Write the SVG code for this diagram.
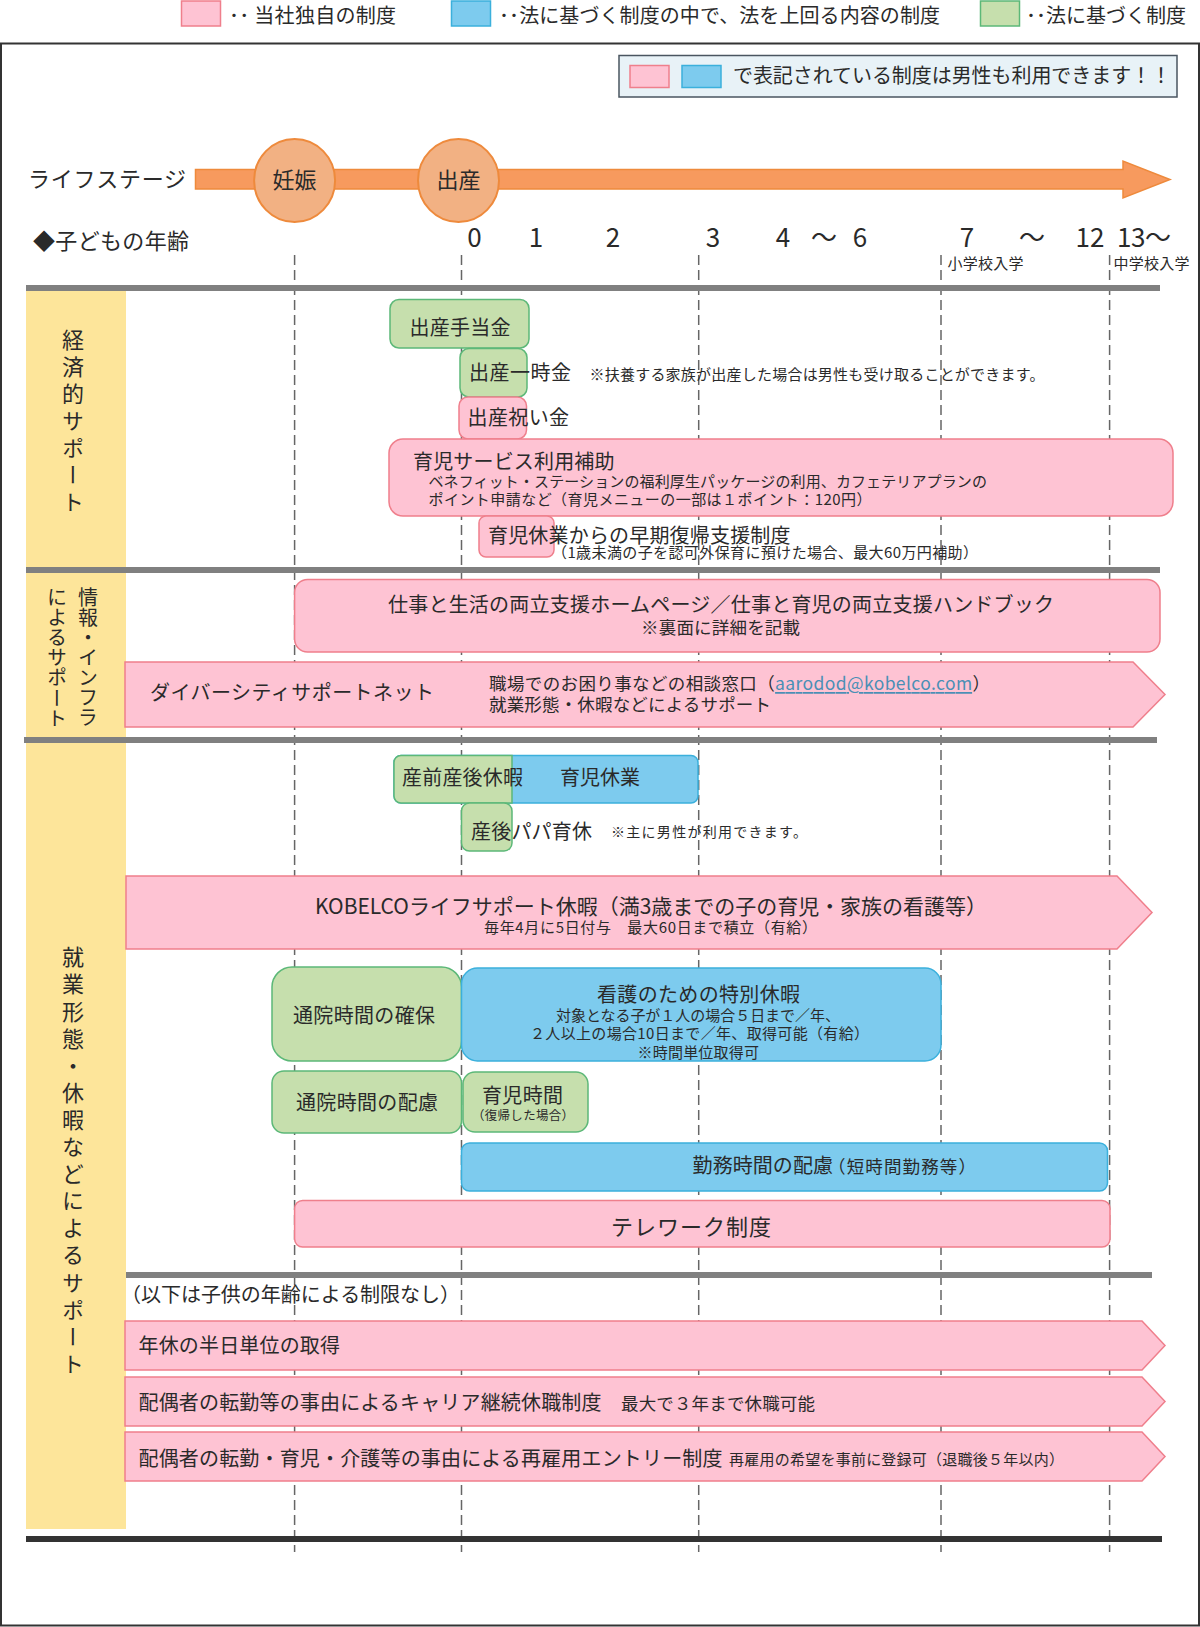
<svg xmlns="http://www.w3.org/2000/svg" width="1200" height="1627" viewBox="0 0 1200 1627">
<style>
text{font-family:"Noto Sans CJK JP","Noto Sans",sans-serif;fill:#2a2a2a;dominant-baseline:central;transform:translateY(-2px)}
.s12{font-size:12.5px}.s14{font-size:14px}.s15{font-size:15px}.s17{font-size:17.5px}.s20{font-size:20px}.s21{font-size:21px}.s22{font-size:22px}.s26{font-size:26px}
.m{text-anchor:middle}
.v{writing-mode:vertical-rl;font-size:22px;dominant-baseline:auto}
.pink{fill:#fec3d3;stroke:#ef7f8c;stroke-width:1.5}
.blue{fill:#7dcbee;stroke:#3bb0dc;stroke-width:1.5}
.green{fill:#c6dfad;stroke:#5cb878;stroke-width:1.5}
.dash{stroke:#666;stroke-width:1.5;stroke-dasharray:10 5;fill:none}
.bar{fill:#808080}
.yel{fill:#fde59a}
.circ{fill:#f2b183;stroke:#ee8a3c;stroke-width:2}
.link{fill:#4a8fb5;text-decoration:underline}
</style>
<rect x="1" y="43.5" width="1198" height="1582" fill="#fff" stroke="#333" stroke-width="2"/>
<g id="legend">
<rect class="pink" x="181.500" y="1" width="39" height="25"/>
<text class="s20" x="229" y="16" textLength="167">･･ 当社独自の制度</text>
<rect class="blue" x="451.500" y="1" width="39" height="25"/>
<text class="s20" x="499" y="16" textLength="441">･･法に基づく制度の中で、法を上回る内容の制度</text>
<rect class="green" x="980.500" y="1" width="39" height="25"/>
<text class="s20" x="1026" y="16" textLength="160">･･法に基づく制度</text>
</g>
<g id="notice">
<rect x="619" y="55.500" width="558" height="41.500" fill="#e8f2f7" stroke="#4a5560" stroke-width="1.500"/>
<rect class="pink" x="630" y="65.500" width="39" height="22"/>
<rect class="blue" x="682" y="65.500" width="39" height="22"/>
<text class="s20" x="733" y="76" textLength="438">で表記されている制度は男性も利用できます！！</text>
</g>
<g id="panels">
<rect class="yel" x="26" y="291" width="100" height="276"/>
<rect class="yel" x="26" y="573" width="100" height="164"/>
<rect class="yel" x="26" y="743" width="100" height="786"/>
<text class="v" x="73" y="331" style="letter-spacing:5px">経済的サポート</text>
<text class="v" x="88" y="589" style="font-size:20px;letter-spacing:0">情報・インフラ</text>
<text class="v" x="57" y="589" style="font-size:20px;letter-spacing:.2px">によるサポート</text>
<text class="v" x="73" y="948" style="letter-spacing:5.100px">就業形態・休暇などによるサポート</text>
</g>
<g id="connectors">
<path class="dash" d="M294.600 255V1552M461.500 255V1552M698.700 255V1552M941 255V1552M1109.600 255V1552"/>
</g>
<g id="bars">
<rect class="bar" x="26" y="285" width="1134" height="6"/>
<rect class="bar" x="26" y="567" width="1134" height="6"/>
<rect class="bar" x="24" y="737" width="1133" height="6"/>
<rect class="bar" x="126" y="1272" width="1026" height="6"/>
<rect x="26" y="1536" width="1136" height="6" fill="#333"/>
</g>
<g id="lifestage">
<path d="M195.500 169.500H1123V161L1170 179.500L1123 198V189H195.500Z" fill="#f79a5e" stroke="#ee8a3c" stroke-width="1.500"/>
<text class="s22" x="28" y="179" textLength="158">ライフステージ</text>
<g id="stage-ninshin"><ellipse class="circ" cx="294.600" cy="180.500" rx="40.500" ry="41.500"/><text class="s22 m" x="294.600" y="180">妊娠</text></g>
<g id="stage-shussan"><ellipse class="circ" cx="458.500" cy="180.500" rx="40.500" ry="41.500"/><text class="s22 m" x="458.500" y="180">出産</text></g>
</g>
<g id="ages">
<text class="s22" x="33" y="241" textLength="156">◆子どもの年齢</text>
<text class="s26 m" x="474.500" y="237">0</text>
<text class="s26 m" x="536" y="237">1</text>
<text class="s26 m" x="613" y="237">2</text>
<text class="s26 m" x="713" y="237">3</text>
<text class="s26 m" x="783" y="237">4</text>
<text class="s26 m" x="824" y="237">～</text>
<text class="s26 m" x="860" y="237">6</text>
<text class="s26 m" x="967" y="237">7</text>
<text class="s26 m" x="1032" y="237">～</text>
<text class="s26 m" x="1090" y="237">12</text>
<text class="s26" x="1117" y="237" textLength="54">13～</text>
<text class="s15" x="947.500" y="264" textLength="76">小学校入学</text>
<text class="s15" x="1113.500" y="264" textLength="76">中学校入学</text>
</g>
<g id="n-teate"><rect class="green" x="390" y="299.500" width="139" height="48.500" rx="9"/><text class="s20" x="409.500" y="328" textLength="101">出産手当金</text></g>
<g id="n-ichiji"><rect class="green" x="460" y="348.500" width="67" height="48.500" rx="9"/><text class="s20" x="469" y="373" textLength="102">出産一時金</text><text class="s15" x="589.500" y="375.500" textLength="455">※扶養する家族が出産した場合は男性も受け取ることができます。</text></g>
<g id="n-iwai"><rect class="pink" x="459" y="397" width="67.500" height="42" rx="9"/><text class="s20" x="467.600" y="418" textLength="101.500">出産祝い金</text></g>
<g id="n-service"><rect class="pink" x="389" y="439" width="784" height="77" rx="14"/><text class="s20" x="413" y="462" textLength="201.500">育児サービス利用補助</text><text class="s15" x="428.500" y="482" textLength="558.500">ベネフィット・ステーションの福利厚生パッケージの利用、カフェテリアプランの</text><text class="s15" x="428.500" y="500" textLength="443">ポイント申請など（育児メニューの一部は１ポイント：120円）</text></g>
<g id="n-fukki"><rect class="pink" x="479" y="516" width="75" height="41" rx="7"/><text class="s20" x="488" y="536" textLength="302.500">育児休業からの早期復帰支援制度</text><text class="s15" x="552" y="553" textLength="426">（1歳未満の子を認可外保育に預けた場合、最大60万円補助）</text></g>
<g id="n-web"><rect class="pink" x="294.600" y="579.500" width="865.400" height="72.500" rx="13"/><text class="s20" x="388" y="605" textLength="666">仕事と生活の両立支援ホームページ／仕事と育児の両立支援ハンドブック</text><text class="s17" x="641" y="628" textLength="159">※裏面に詳細を記載</text></g>
<g id="n-net"><path class="pink" d="M125 662H1133L1165 694.500L1133 727H125Z"/><text class="s20" x="150" y="693" textLength="284">ダイバーシティサポートネット</text><text class="s17" x="489" y="684" textLength="501">職場でのお困り事などの相談窓口（<tspan class="link">aarodod@kobelco.com</tspan>）</text><text class="s17" x="489" y="705" textLength="282">就業形態・休暇などによるサポート</text></g>
<g id="n-leave"><rect class="blue" x="394" y="755.500" width="304" height="47.500" rx="7"/><path class="green" d="M512 755.500H401a7 7 0 0 0-7 7V796a7 7 0 0 0 7 7H512Z"/><text class="s20" x="402" y="778" textLength="121">産前産後休暇</text><text class="s20" x="560" y="778" textLength="80">育児休業</text></g>
<g id="n-papa"><rect class="green" x="461.500" y="803" width="50.500" height="48" rx="8"/><text class="s20" x="471" y="832" textLength="121">産後パパ育休</text><text class="s14" x="611" y="833" textLength="196">※主に男性が利用できます。</text></g>
<g id="n-kobelco"><path class="pink" d="M126 876H1117L1152 912.500L1117 949H126Z"/><text class="s21" x="315" y="907" textLength="672">KOBELCOライフサポート休暇（満3歳までの子の育児・家族の看護等）</text><text class="s15" x="484" y="928" textLength="333">毎年4月に5日付与　最大60日まで積立（有給）</text></g>
<g id="n-tsuin1"><rect class="green" x="272" y="967" width="189.500" height="94" rx="20"/><text class="s20" x="293" y="1016" textLength="142">通院時間の確保</text></g>
<g id="n-kango"><rect class="blue" x="461.500" y="968" width="479.500" height="93" rx="16"/><text class="s20" x="597" y="995" textLength="203">看護のための特別休暇</text><text class="s15" x="556" y="1016" textLength="284">対象となる子が１人の場合５日まで／年、</text><text class="s15" x="530" y="1034" textLength="339">２人以上の場合10日まで／年、取得可能（有給）</text><text class="s15" x="637.500" y="1053" textLength="121.500">※時間単位取得可</text></g>
<g id="n-tsuin2"><rect class="green" x="272" y="1071" width="189.500" height="62" rx="12"/><text class="s20" x="296" y="1103" textLength="142">通院時間の配慮</text></g>
<g id="n-ikuji"><rect class="green" x="463" y="1072" width="125" height="60" rx="12"/><text class="s20" x="482" y="1096" textLength="81">育児時間</text><text class="s12" x="472" y="1116" textLength="102">（復帰した場合）</text></g>
<g id="n-kinmu"><rect class="blue" x="461.500" y="1143" width="646" height="48" rx="8"/><text class="s20" x="692.600" y="1166" textLength="140.400">勤務時間の配慮</text><text class="s17" x="828" y="1167" textLength="148">（短時間勤務等）</text></g>
<g id="n-tele"><rect class="pink" x="294.600" y="1200.500" width="815.400" height="46.500" rx="8"/><text class="s22" x="611" y="1227" textLength="160">テレワーク制度</text></g>
<text class="s20" x="121" y="1295" textLength="339">（以下は子供の年齢による制限なし）</text>
<g id="n-nenkyu"><path class="pink" d="M125 1321H1142L1165 1345.500L1142 1370H125Z"/><text class="s20" x="138.500" y="1346" textLength="201.500">年休の半日単位の取得</text></g>
<g id="n-career"><path class="pink" d="M125 1377H1142L1165 1401.500L1142 1426H125Z"/><text class="s20" x="138.500" y="1403" textLength="463">配偶者の転勤等の事由によるキャリア継続休職制度</text><text class="s17" x="621" y="1404" textLength="194">最大で３年まで休職可能</text></g>
<g id="n-entry"><path class="pink" d="M125 1432H1142L1165 1456.500L1142 1481H125Z"/><text class="s20" x="138.500" y="1459" textLength="584">配偶者の転勤・育児・介護等の事由による再雇用エントリー制度</text><text class="s15" x="729" y="1460" textLength="335">再雇用の希望を事前に登録可（退職後５年以内）</text></g>
</svg>
